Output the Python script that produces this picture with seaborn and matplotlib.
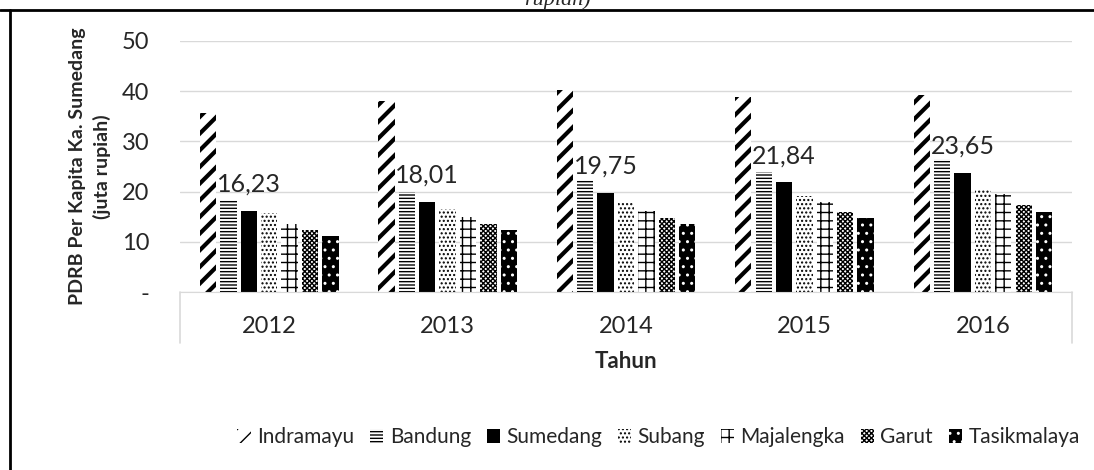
import numpy as np
import pandas as pd
import matplotlib
matplotlib.use("Agg")
import matplotlib.pyplot as plt
from matplotlib.patches import Patch
from matplotlib.lines import Line2D
import seaborn as sns

# Data (juta rupiah)
years = ['2012', '2013', '2014', '2015', '2016']
regions = ['Indramayu', 'Bandung', 'Sumedang', 'Subang', 'Majalengka', 'Garut', 'Tasikmalaya']
indramayu = [35.7, 38.0, 40.2, 38.8, 39.2]
bandung = [18.3, 20.0, 22.3, 24.0, 26.4]
sumedang = [16.23, 18.01, 19.75, 21.84, 23.65]
subang = [15.7, 16.5, 17.8, 19.1, 20.3]
majalengka = [13.5, 15.0, 16.2, 18.0, 19.5]
garut = [12.3, 13.5, 14.7, 16.0, 17.3]
tasikmalaya = [11.2, 12.4, 13.5, 14.7, 16.0]
yticks = [0, 10, 20, 30, 40, 50]
ytick_labels = ['-', '10', '20', '30', '40', '50']

series = [indramayu, bandung, sumedang, subang, majalengka, garut, tasikmalaya]
df = pd.DataFrame({
    'Tahun': [y for s in series for y in years],
    'Wilayah': [r for r, s in zip(regions, series) for _ in s],
    'Nilai': [v for s in series for v in s],
})

# hatch style per region: (face, hatch colour, hatch)
styles = {
    'Indramayu': ('white', 'black', '//'),
    'Bandung': ('white', 'black', '-----'),
    'Sumedang': ('black', 'black', None),
    'Subang': ('white', 'black', '....'),
    'Majalengka': ('white', 'black', '++'),
    'Garut': ('white', 'black', 'xxxxxxx'),
    'Tasikmalaya': ('black', 'white', '..'),
}

sns.set_style('white')
plt.rcParams['font.family'] = ['Lato', 'DejaVu Sans']
plt.rcParams['hatch.linewidth'] = 1.0

fig = plt.figure(figsize=(10.94, 4.70), dpi=100)
ax = fig.add_axes([0.1645, 0.3787, 0.8155, 0.5341])

sns.barplot(data=df, x='Tahun', y='Nilai', hue='Wilayah', order=years,
            hue_order=regions, gap=0.2, width=0.8, ax=ax, legend=False,
            errorbar=None)

for name, cont in zip(regions, ax.containers):
    face, hcol, hatch = styles[name]
    for bar in cont:
        bar.set_facecolor(face)
        bar.set_edgecolor(hcol)
        bar.set_linewidth(0)
        if hatch:
            bar.set_hatch(hatch)
        if name == 'Indramayu' and hasattr(bar, 'set_hatch_linewidth'):
            bar.set_hatch_linewidth(3.0)

# data labels for Sumedang
sum_cont = ax.containers[regions.index('Sumedang')]
for bar, v in zip(sum_cont, sumedang):
    ax.annotate(f'{v:.2f}'.replace('.', ','),
                (bar.get_x() + bar.get_width() / 2, bar.get_height()),
                xytext=(0, 11), textcoords='offset points',
                ha='center', va='bottom', fontsize=18, color='#262626')

ax.set_ylim(0, 50)
ax.set_xlim(-0.5, 4.5)
ax.set_yticks(yticks)
ax.set_yticklabels(ytick_labels)
ax.yaxis.grid(True, color='#d9d9d9', lw=1)
ax.set_axisbelow(True)
for s in ['top', 'right', 'left']:
    ax.spines[s].set_visible(False)
ax.spines['bottom'].set_color('#d9d9d9')
ax.tick_params(axis='y', length=0, pad=22, labelsize=17, labelcolor='#262626')
ax.tick_params(axis='x', length=0, pad=17, labelsize=17, labelcolor='#262626')

ax.set_ylabel('PDRB Per Kapita Ka. Sumedang\n(juta rupiah)', fontsize=14,
              fontweight='bold', labelpad=8, linespacing=1.45)
ax.set_xlabel('Tahun', fontsize=16, fontweight='bold', labelpad=10)

# category box borders
for xx in (0, 1):
    ax.add_line(Line2D([xx, xx], [0, -0.203], transform=ax.transAxes,
                       color='#d9d9d9', lw=1.2, clip_on=False))

# legend
handles = []
for name in regions:
    face, hcol, hatch = styles[name]
    handles.append(Patch(facecolor=face, edgecolor=hcol, hatch=hatch, lw=0, label=name))
fig.legend(handles=handles, loc='center', bbox_to_anchor=(0.602, 0.07),
           ncol=7, frameon=False, fontsize=15, handlelength=0.65,
           handleheight=0.65, handletextpad=0.3, columnspacing=0.75)

# outer frame and clipped caption
fig.add_artist(Line2D([0, 1], [1 - 10 / 470, 1 - 10 / 470], transform=fig.transFigure,
                      color='black', lw=2))
fig.add_artist(Line2D([10 / 1094, 10 / 1094], [0, 1 - 10 / 470], transform=fig.transFigure,
                      color='black', lw=2))
fig.text(557 / 1094, 1 - 5 / 470, 'rupiah)', ha='center', va='baseline',
         fontsize=16, style='italic', family='Liberation Serif')

fig.savefig('out.png', dpi=100)
